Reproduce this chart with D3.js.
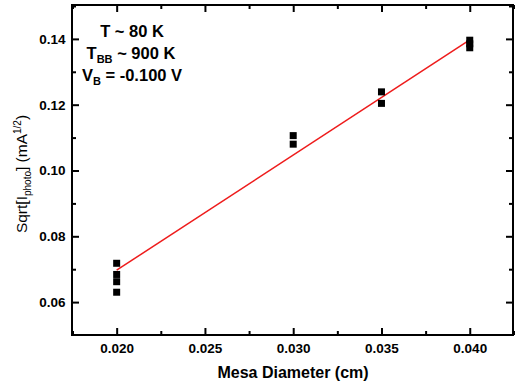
<!DOCTYPE html>
<html>
<head>
<meta charset="utf-8">
<script src="https://cdn.jsdelivr.net/npm/d3@7"></script>
<style>
  body { margin: 0; background: #fff; }
  text { font-family: "Liberation Sans", Arial, sans-serif; }
</style>
</head>
<body>
<div class="chart"></div>
<script>
	// data
	var diameters = [0.020, 0.020, 0.020, 0.020, 0.030, 0.030, 0.035, 0.035, 0.040, 0.040, 0.040];
	var sqrtPhoto = [0.0718, 0.0684, 0.0662, 0.0630, 0.1106, 0.1080, 0.1239, 0.1204, 0.1396, 0.1385, 0.1373];
	var fitX = [0.020, 0.040];
	var fitY = [0.0697, 0.1397];
	var xTicks = [0.020, 0.025, 0.030, 0.035, 0.040];
	var yTicks = [0.06, 0.08, 0.10, 0.12, 0.14];

	var width = 515, height = 387;
	var margin = { left: 72, right: 2, top: 5, bottom: 52 };

	var svg = d3.select(".chart")
		.append("svg")
			.attr("width", width)
			.attr("height", height);

	var x = d3.scaleLinear()
		.domain([0.01747, 0.04245])
		.range([margin.left, width - margin.right]);

	var y = d3.scaleLinear()
		.domain([0.0500, 0.1503])
		.range([height - margin.bottom, margin.top]);

	var xMinor = d3.range(0, xTicks.length - 1).map(function(i) { return (xTicks[i] + xTicks[i + 1]) / 2; });
	xMinor.unshift(xTicks[0] - 0.0025);
	xMinor.push(xTicks[xTicks.length - 1] + 0.0025);
	var yMinor = d3.range(0, yTicks.length - 1).map(function(i) { return (yTicks[i] + yTicks[i + 1]) / 2; });
	yMinor.push(0.15);

	function fmtX(d) { return d.toFixed(3); }
	function fmtY(d) { return d.toFixed(2); }

	// bottom axis
	var xAxis = d3.axisBottom(x).tickValues(xTicks).tickFormat(fmtX).tickSizeInner(-7).tickSizeOuter(0).tickPadding(8.5);
	var gx = svg.append("g")
		.attr("transform", "translate(0," + (height - margin.bottom) + ")")
		.call(xAxis);
	gx.append("g").call(d3.axisBottom(x).tickValues(xMinor).tickFormat("").tickSizeInner(-4).tickSizeOuter(0));

	// top axis
	var gxt = svg.append("g").attr("transform", "translate(0," + margin.top + ")");
	gxt.call(d3.axisTop(x).tickValues(xTicks).tickFormat("").tickSizeInner(-7).tickSizeOuter(0));
	gxt.append("g").call(d3.axisTop(x).tickValues(xMinor).tickFormat("").tickSizeInner(-4).tickSizeOuter(0));

	// left axis
	var yAxis = d3.axisLeft(y).tickValues(yTicks).tickFormat(fmtY).tickSizeInner(-7).tickSizeOuter(0).tickPadding(6.5);
	var gy = svg.append("g")
		.attr("transform", "translate(" + margin.left + ",0)")
		.call(yAxis);
	gy.append("g").call(d3.axisLeft(y).tickValues(yMinor).tickFormat("").tickSizeInner(-4).tickSizeOuter(0));

	// right axis
	var gyr = svg.append("g").attr("transform", "translate(" + (width - margin.right) + ",0)");
	gyr.call(d3.axisRight(y).tickValues(yTicks).tickFormat("").tickSizeInner(-7).tickSizeOuter(0));
	gyr.append("g").call(d3.axisRight(y).tickValues(yMinor).tickFormat("").tickSizeInner(-4).tickSizeOuter(0));

	svg.selectAll(".domain").remove();
	svg.selectAll(".tick line").attr("stroke", "#000").attr("stroke-width", 2);
	svg.selectAll(".tick text")
		.attr("fill", "#000")
		.style("font-size", "13.5px")
		.style("font-weight", "bold");

	// frame
	svg.append("rect")
		.attr("x", margin.left)
		.attr("y", margin.top)
		.attr("width", width - margin.left - margin.right)
		.attr("height", height - margin.top - margin.bottom)
		.attr("fill", "none")
		.attr("stroke", "#000")
		.attr("stroke-width", 2);

	// fit line
	var line = d3.line()
		.x(function(d) { return x(d[0]); })
		.y(function(d) { return y(d[1]); });
	svg.append("path")
		.datum(d3.zip(fitX, fitY))
		.attr("d", line)
		.attr("fill", "none")
		.attr("stroke", "#ee1c1c")
		.attr("stroke-width", 1.5);

	// squares
	var sq = 7;
	svg.selectAll("rect.pt")
		.data(d3.zip(diameters, sqrtPhoto))
		.enter()
		.append("rect")
			.attr("class", "pt")
			.attr("x", function(d) { return x(d[0]) - sq / 2; })
			.attr("y", function(d) { return y(d[1]) - sq / 2; })
			.attr("width", sq)
			.attr("height", sq)
			.attr("fill", "#000");

	// axis titles
	svg.append("text")
		.attr("x", 293)
		.attr("y", 378)
		.attr("text-anchor", "middle")
		.style("font-size", "16px")
		.style("font-weight", "bold")
		.text("Mesa Diameter (cm)");

	var yt = svg.append("text")
		.attr("transform", "translate(27,174) rotate(-90)")
		.attr("text-anchor", "middle")
		.style("font-size", "15.5px");
	yt.append("tspan").text("Sqrt[I");
	yt.append("tspan").attr("dy", 4).style("font-size", "10px").text("photo");
	yt.append("tspan").attr("dy", -4).text("] (mA");
	yt.append("tspan").attr("dy", -6).style("font-size", "10px").text("1/2");
	yt.append("tspan").attr("dy", 6).text(")");

	// annotation
	var ann = svg.append("g").style("font-size", "16.5px").style("font-weight", "bold");
	ann.append("text").attr("x", 132).attr("y", 37).attr("text-anchor", "middle").text("T ~ 80 K");
	var t2 = ann.append("text").attr("x", 131).attr("y", 59).attr("text-anchor", "middle");
	t2.append("tspan").text("T");
	t2.append("tspan").attr("dy", 4).style("font-size", "11px").text("BB");
	t2.append("tspan").attr("dy", -4).text(" ~ 900 K");
	var t3 = ann.append("text").attr("x", 132).attr("y", 81).attr("text-anchor", "middle");
	t3.append("tspan").text("V");
	t3.append("tspan").attr("dy", 4).style("font-size", "11px").text("B");
	t3.append("tspan").attr("dy", -4).text(" = -0.100 V");
</script>
</body>
</html>
